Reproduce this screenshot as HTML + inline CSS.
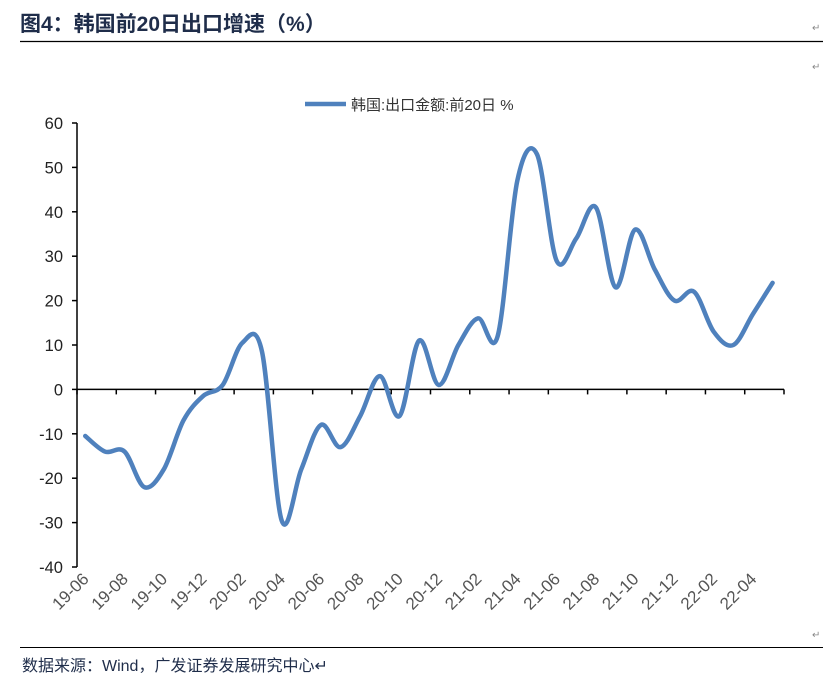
<!DOCTYPE html>
<html><head><meta charset="utf-8"><style>
body{margin:0;background:#fff;width:835px;height:691px;overflow:hidden;font-family:"Liberation Sans","Noto Sans CJK SC",sans-serif}
</style></head><body>
<svg width="835" height="691" xmlns="http://www.w3.org/2000/svg">
<text x="20" y="31" font-size="21" font-weight="bold" fill="#1f2d4a" font-family="Liberation Sans,Noto Sans CJK SC,sans-serif">图4：韩国前20日出口增速（%）</text>
<line x1="20" y1="41.5" x2="823" y2="41.5" stroke="#000" stroke-width="1.2"/>
<text x="812" y="70" font-size="10" fill="#888">↵</text>
<text x="812" y="31" font-size="10" fill="#888">↵</text>
<line x1="305" y1="104" x2="346" y2="104" stroke="#4f81bd" stroke-width="4.5"/>
<text x="351" y="110" font-size="15" fill="#333">韩国:出口金额:前20日 %</text>
<g id="axes"></g>
<line x1="20" y1="647.5" x2="823" y2="647.5" stroke="#000" stroke-width="1"/>
<text x="812" y="638" font-size="10" fill="#888">↵</text>
<text x="22" y="671" font-size="16" fill="#1f2d4a">数据来源：Wind，广发证券发展研究中心↵</text>
</svg>
<script>
const categories=["19-06","19-07","19-08","19-09","19-10","19-11","19-12","20-01","20-02","20-03","20-04","20-05","20-06","20-07","20-08","20-09","20-10","20-11","20-12","21-01","21-02","21-03","21-04","21-05","21-06","21-07","21-08","21-09","21-10","21-11","21-12","22-01","22-02","22-03","22-04","22-05"];
const values=[-10.5,-14,-14,-22,-18,-7,-1.5,1,10.5,8.5,-29.5,-18,-8,-13,-6,3,-6,11,1,10,16,12,47,53,29,34,41,23,36,27,20,22,13,10,17,24];
const yTicks=[60,50,40,30,20,10,0,-10,-20,-30,-40];
const NS="http://www.w3.org/2000/svg";
const g=document.getElementById('axes');
const X0=77,X1=784,Y60=123,Ym40=567;
const step=(X1-X0)/categories.length;
const xs=i=>X0+(i+0.42)*step;
const xl=i=>X0+(i+0.5)*step;
const ys=v=>Y60+(60-v)*(Ym40-Y60)/100;
function mk(t,a){const e=document.createElementNS(NS,t);for(const k in a)e.setAttribute(k,a[k]);g.appendChild(e);return e;}
let e=mk('line',{x1:X0,y1:Y60,x2:X0,y2:Ym40,stroke:'#000','stroke-width':1.5});


yTicks.forEach(v=>{
 let t=mk('line',{x1:X0-5,y1:ys(v),x2:X0,y2:ys(v),stroke:'#000','stroke-width':1.5});
 
 
 let l=mk('text',{x:X0-14,y:ys(v)+6,'text-anchor':'end','font-size':16.5,fill:'#222'});
 l.textContent=v;
 
 
});
e=mk('line',{x1:X0,y1:ys(0),x2:X1,y2:ys(0),stroke:'#000','stroke-width':1.5});


for(let i=0;i<=categories.length;i+=2){
 let t=mk('line',{x1:X0+i*step,y1:ys(0),x2:X0+i*step,y2:ys(0)+5,stroke:'#000','stroke-width':1.5});
 
 
}
categories.forEach((c,i)=>{
 if(i%2)return;
 const x=xl(i)+3,y=580;
 let l=mk('text',{x:x,y:y,'text-anchor':'end','font-size':17,fill:'#555',transform:`rotate(-45 ${x} ${y})`});
 l.textContent=c;
 
 
});
const P=values.map((v,i)=>[xs(i),ys(v)]);
let d=`M${P[0][0]},${P[0][1]}`;
for(let i=0;i<P.length-1;i++){
 const p0=P[Math.max(0,i-1)],p1=P[i],p2=P[i+1],p3=P[Math.min(P.length-1,i+2)];
 const k=1/6;
 d+=` C${p1[0]+(p2[0]-p0[0])*k},${p1[1]+(p2[1]-p0[1])*k} ${p2[0]-(p3[0]-p1[0])*k},${p2[1]-(p3[1]-p1[1])*k} ${p2[0]},${p2[1]}`;
}
e=mk('path',{d:d,fill:'none',stroke:'#4f81bd','stroke-width':4.5,'stroke-linejoin':'round','stroke-linecap':'round'});


</script>
</body></html>
